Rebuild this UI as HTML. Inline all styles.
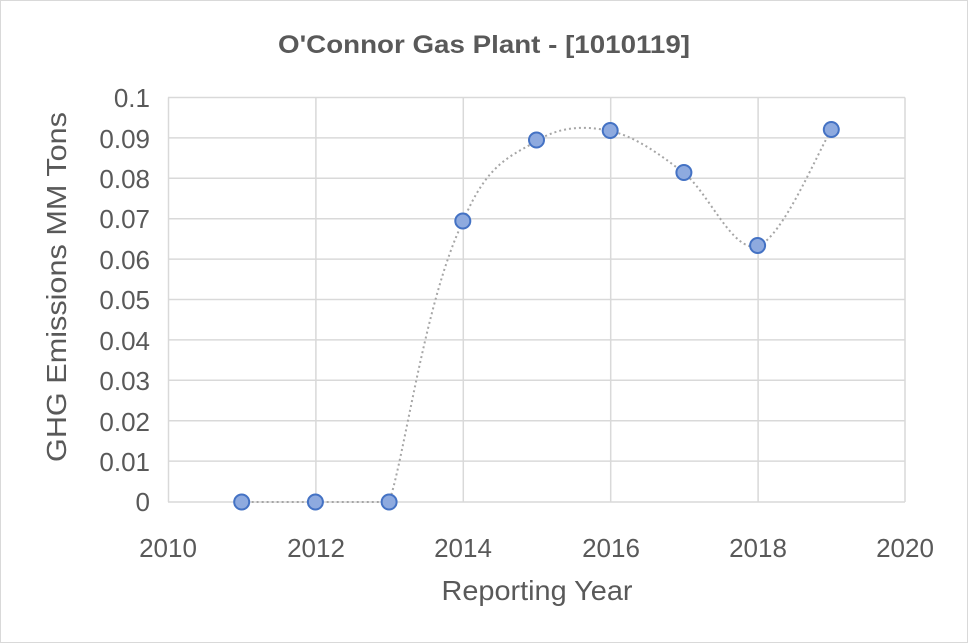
<!DOCTYPE html>
<html><head><meta charset="utf-8"><style>
html,body{margin:0;padding:0;background:#fff;}
svg{display:block;font-family:"Liberation Sans",Calibri,sans-serif;}
</style></head><body>
<svg width="968" height="643" viewBox="0 0 968 643" xmlns="http://www.w3.org/2000/svg">
<rect x="0.5" y="0.5" width="967" height="642" fill="#fff" stroke="#d9d9d9" stroke-width="1"/>
<text x="484" y="53" text-anchor="middle" font-size="25" font-weight="bold" fill="#595959" textLength="412" lengthAdjust="spacingAndGlyphs">O'Connor Gas Plant - [1010119]</text>
<g stroke="#d9d9d9" stroke-width="1.5" fill="none">
<line x1="168" y1="97.5" x2="905" y2="97.5"/>
<line x1="168" y1="137.9" x2="905" y2="137.9"/>
<line x1="168" y1="178.3" x2="905" y2="178.3"/>
<line x1="168" y1="218.7" x2="905" y2="218.7"/>
<line x1="168" y1="259.1" x2="905" y2="259.1"/>
<line x1="168" y1="299.5" x2="905" y2="299.5"/>
<line x1="168" y1="339.9" x2="905" y2="339.9"/>
<line x1="168" y1="380.3" x2="905" y2="380.3"/>
<line x1="168" y1="420.7" x2="905" y2="420.7"/>
<line x1="168" y1="461.1" x2="905" y2="461.1"/>
<line x1="168" y1="502" x2="905" y2="502"/>
<line x1="168.5" y1="97.5" x2="168.5" y2="502"/>
<line x1="315.9" y1="97.5" x2="315.9" y2="502"/>
<line x1="463.3" y1="97.5" x2="463.3" y2="502"/>
<line x1="610.7" y1="97.5" x2="610.7" y2="502"/>
<line x1="758.1" y1="97.5" x2="758.1" y2="502"/>
<line x1="905" y1="97.5" x2="905" y2="502"/>
</g>
<g font-size="26" fill="#595959" text-anchor="end">
<text x="150" y="107">0.1</text>
<text x="150" y="148">0.09</text>
<text x="150" y="188">0.08</text>
<text x="150" y="228">0.07</text>
<text x="150" y="269">0.06</text>
<text x="150" y="309">0.05</text>
<text x="150" y="350">0.04</text>
<text x="150" y="390">0.03</text>
<text x="150" y="431">0.02</text>
<text x="150" y="471">0.01</text>
<text x="150" y="511">0</text>
</g>
<g font-size="26" fill="#595959" text-anchor="middle">
<text x="168" y="557">2010</text>
<text x="316" y="557">2012</text>
<text x="463" y="557">2014</text>
<text x="611" y="557">2016</text>
<text x="758" y="557">2018</text>
<text x="905" y="557">2020</text>
</g>
<text x="537" y="600" text-anchor="middle" font-size="28" fill="#595959" textLength="191" lengthAdjust="spacingAndGlyphs">Reporting Year</text>
<text transform="translate(66,287) rotate(-90)" text-anchor="middle" font-size="28" fill="#595959" textLength="350" lengthAdjust="spacingAndGlyphs">GHG Emissions MM Tons</text>
<path d="M241.7,502 C254,502 290.8,502 315.4,502 C340,502 370,502 389.1,502 C405,455 425,300 462.8,222 C487.4,161.8 511.9,156.2 536.5,141 C561.1,125.8 585.6,125.7 610.2,131 C634.8,136.3 659.3,153.8 683.9,173 C708.5,192.2 733,253.2 757.6,246 C782.2,238.8 819,149.3 831.3,130" fill="none" stroke="#a6a6a6" stroke-width="2" stroke-dasharray="2,3"/>
<g fill="#8eaadf" stroke="#4472c4" stroke-width="2">
<circle cx="241.7" cy="502" r="7.5"/>
<circle cx="315.4" cy="502" r="7.5"/>
<circle cx="389.1" cy="502" r="7.5"/>
<circle cx="462.8" cy="221" r="7.5"/>
<circle cx="536.5" cy="140" r="7.5"/>
<circle cx="610.2" cy="130.5" r="7.5"/>
<circle cx="683.9" cy="172.5" r="7.5"/>
<circle cx="757.6" cy="245.5" r="7.5"/>
<circle cx="831.3" cy="129.5" r="7.5"/>
</g>
</svg>
</body></html>
